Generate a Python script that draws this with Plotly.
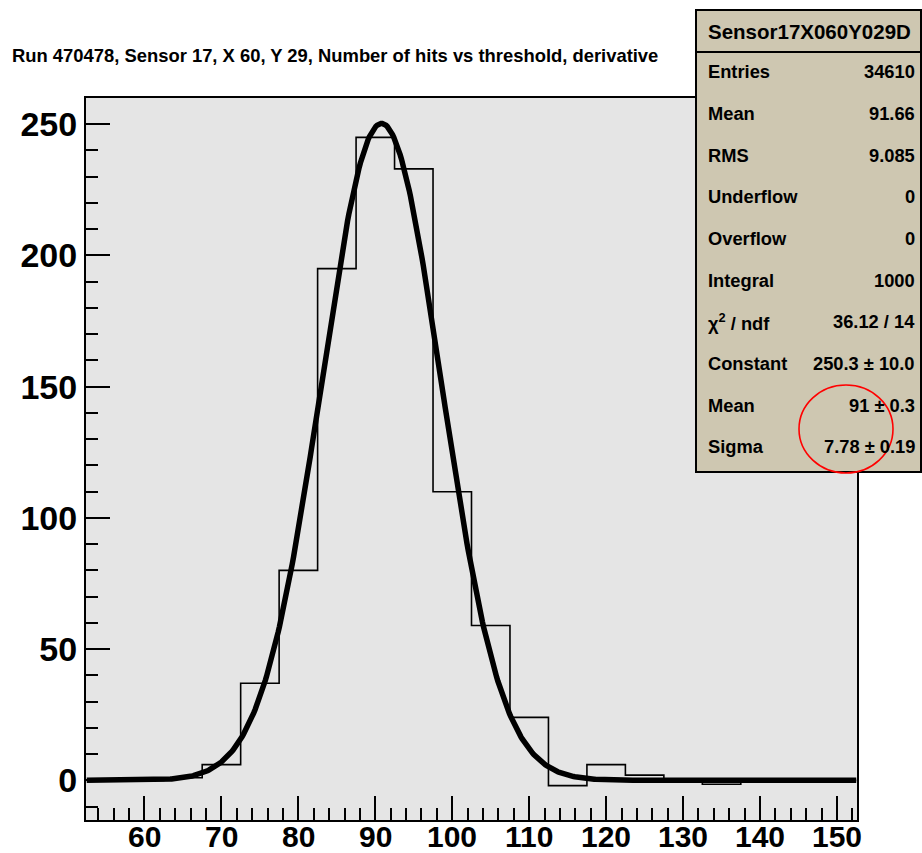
import numpy as np
import plotly.graph_objects as go

# ---------------- data ----------------
bin_edges = [52.5, 57.5, 62.5, 67.5, 72.5, 77.5, 82.5, 87.5, 92.5, 97.5, 102.5,
             107.5, 112.5, 117.5, 122.5, 127.5, 132.5, 137.5, 142.5, 147.5, 152.5]
bin_counts = [0, 0, 1, 6, 37, 80, 195, 245, 233, 110, 59,
              24, -2, 6, 2, 0.5, -1.5, 0, 0, 0]

fit_constant = 250.3
fit_mean = 90.8
fit_sigma = 7.78

title_text = "Run 470478, Sensor 17, X 60, Y 29, Number of hits vs threshold, derivative"
stats_header = "Sensor17X060Y029D"
stats_labels = ["Entries", "Mean", "RMS", "Underflow", "Overflow", "Integral",
                "χ<sup>2</sup> / ndf", "Constant", "Mean", "Sigma"]
stats_values = ["34610", "91.66", "9.085", "0", "0", "1000",
                "36.12 / 14", "250.3 ± 10.0", "91 ± 0.3", "7.78 ± 0.19"]

x_range = [52.4, 152.6]
y_range = [-15.1, 260.0]
x_ticks = [60, 70, 80, 90, 100, 110, 120, 130, 140, 150]
y_ticks = [0, 50, 100, 150, 200, 250]

# ---------------- layout geometry (page pixels) ----------------
W, H = 922, 853
pl, pr, pt, pb = 86, 857, 98, 820   # plot-area edges
L, T, R, B = pl, pt, W - pr, H - pb
PW, PH = pr - pl, pb - pt

def px(x):
    return (x - pl) / PW

def py(y):
    return (pb - y) / PH

fig = go.Figure()

# histogram outline (step)
hx = list(bin_edges)
hy = list(bin_counts) + [bin_counts[-1]]
fig.add_trace(go.Scatter(x=hx, y=hy, mode="lines", line=dict(color="black", width=1.6, shape="hv"),
                         hoverinfo="skip", showlegend=False))

# gaussian fit curve
xf = np.linspace(bin_edges[0], bin_edges[-1], 600)
yf = fit_constant * np.exp(-0.5 * ((xf - fit_mean) / fit_sigma) ** 2)
fig.add_trace(go.Scatter(x=xf, y=yf, mode="lines", line=dict(color="black", width=5.5),
                         hoverinfo="skip", showlegend=False))

axis_common = dict(showgrid=False, zeroline=False, showline=True, linecolor="black",
                   linewidth=2, mirror=True, ticks="inside", tickcolor="black", tickwidth=1.5)

fig.update_xaxes(range=x_range, tickvals=x_ticks, ticklen=24, showticklabels=False,
                 minor=dict(ticks="inside", ticklen=12, dtick=2, tick0=0, tickcolor="black", tickwidth=1.5),
                 **axis_common)
fig.update_yaxes(range=y_range, tickvals=y_ticks, ticklen=24,
                 tickfont=dict(family="Liberation Sans, Arial, sans-serif", size=34, color="black", weight="bold"),
                 minor=dict(ticks="inside", ticklen=12, dtick=10, tick0=0, tickcolor="black", tickwidth=1.5),
                 ticklabelstandoff=0,
                 **axis_common)

shapes = []
# stats box
bx0, bx1, by0, by1 = 696, 921, 10, 472
shapes.append(dict(type="rect", xref="paper", yref="paper", x0=px(bx0), x1=px(bx1), y0=py(by1), y1=py(by0),
                   fillcolor="rgb(206,199,177)", line=dict(color="black", width=2), layer="above"))
shapes.append(dict(type="line", xref="paper", yref="paper", x0=px(bx0), x1=px(bx1), y0=py(52), y1=py(52),
                   line=dict(color="black", width=2), layer="above"))
# red circle
shapes.append(dict(type="circle", xref="paper", yref="paper", x0=px(799), x1=px(893), y0=py(473), y1=py(385),
                   line=dict(color="red", width=1.6), layer="above"))

annotations = []
# x tick labels, placed on the x axis scale
xfont = dict(family="Liberation Sans, Arial, sans-serif", size=30, color="black", weight="bold")
for v in x_ticks:
    annotations.append(dict(text=str(v), xref="x", yref="paper", x=v, y=py(836),
                            xanchor="center", yanchor="middle", showarrow=False, borderpad=0, font=xfont))

annotations.append(dict(text=title_text, xref="paper", yref="paper", x=px(10), y=py(56),
                        xanchor="left", yanchor="middle", showarrow=False,
                        font=dict(family="Liberation Sans, Arial, sans-serif", size=18.4, color="black", weight="bold")))
annotations.append(dict(text=stats_header, xref="paper", yref="paper", x=px(809), y=py(31),
                        xanchor="center", yanchor="middle", showarrow=False,
                        font=dict(family="Liberation Sans, Arial, sans-serif", size=20.5, color="black", weight="bold")))
row_y0, row_dy = 71.7, 41.67
sfont = dict(family="Liberation Sans, Arial, sans-serif", size=18.3, color="black", weight="bold")
for i, (lab, val) in enumerate(zip(stats_labels, stats_values)):
    yy = row_y0 + i * row_dy
    annotations.append(dict(text=lab, xref="paper", yref="paper", x=px(706), y=py(yy),
                            xanchor="left", yanchor="middle", showarrow=False, font=sfont))
    annotations.append(dict(text=val, xref="paper", yref="paper", x=px(917), y=py(yy),
                            xanchor="right", yanchor="middle", showarrow=False, font=sfont))

fig.update_layout(width=W, height=H, margin=dict(l=L, r=R, t=T, b=B, autoexpand=False),
                  paper_bgcolor="white", plot_bgcolor="rgb(229,229,229)",
                  shapes=shapes, annotations=annotations, showlegend=False)

fig.write_html("out.html", config={"displayModeBar": False},
               post_script="document.body.style.margin='0px';document.body.style.overflow='hidden';")
